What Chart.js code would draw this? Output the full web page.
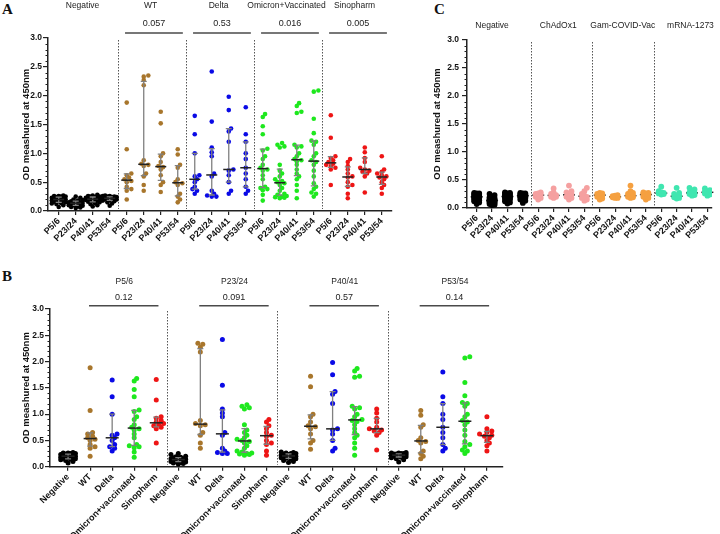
<!DOCTYPE html>
<html>
<head>
<meta charset="utf-8">
<script src="https://cdn.jsdelivr.net/npm/chart.js@4.4.1/dist/chart.umd.min.js"></script>
<style>
  body { margin: 0; background: #fff; width: 720px; height: 534px; position: relative; overflow: hidden; }
  canvas { position: absolute; }
  .tag { position: absolute; font: bold 15px "Liberation Serif", "DejaVu Serif", serif; color: #111; }
</style>
</head>
<body>
<div class="tag" style="left:2px;top:1px">A</div>
<div class="tag" style="left:2px;top:268px">B</div>
<div class="tag" style="left:434px;top:1px">C</div>
<canvas id="chartA" width="400" height="275" style="left:0;top:0"></canvas>
<canvas id="chartC" width="320" height="275" style="left:400px;top:0"></canvas>
<canvas id="chartB" width="520" height="264" style="left:0;top:270px"></canvas>
<script>
const passages = ['P5/6', 'P23/24', 'P40/41', 'P53/54'];
const groupsA = ['Negative', 'WT', 'Delta', 'Omicron+Vaccinated', 'Sinopharm'];
const ticksB = ['Negative', 'WT', 'Delta', 'Omicron+vaccinated', 'Sinopharm'];
const groupsC = ['Negative', 'ChAdOx1', 'Gam-COVID-Vac', 'mRNA-1273'];
const pValuesA = ['0.057', '0.53', '0.016', '0.005'];
const pValuesB = ['0.12', '0.091', '0.57', '0.14'];
const yTitle = 'OD meashured at 450nm';

// OD at 450nm, one list per passage: P5/6, P23/24, P40/41, P53/54
const negative = [
  [0.27, 0.26, 0.26, 0.25, 0.25, 0.24, 0.23, 0.22, 0.22, 0.21, 0.2, 0.2, 0.19, 0.18, 0.18, 0.17, 0.16, 0.15, 0.14, 0.13, 0.12, 0.1, 0.07],
  [0.25, 0.23, 0.2, 0.19, 0.18, 0.17, 0.16, 0.15, 0.15, 0.14, 0.14, 0.13, 0.12, 0.12, 0.11, 0.1, 0.1, 0.09, 0.08, 0.07, 0.06, 0.05],
  [0.28, 0.27, 0.26, 0.25, 0.25, 0.24, 0.23, 0.22, 0.22, 0.21, 0.21, 0.2, 0.2, 0.19, 0.18, 0.17, 0.16, 0.15, 0.14, 0.12, 0.1, 0.08],
  [0.27, 0.26, 0.26, 0.25, 0.25, 0.24, 0.24, 0.23, 0.23, 0.22, 0.22, 0.21, 0.21, 0.2, 0.2, 0.19, 0.18, 0.17, 0.15, 0.13, 0.09]
];
const wt = [
  [1.88, 1.07, 0.65, 0.62, 0.58, 0.55, 0.52, 0.5, 0.42, 0.38, 0.35, 0.2],
  [2.35, 2.33, 2.27, 2.18, 0.88, 0.82, 0.8, 0.78, 0.65, 0.6, 0.45, 0.35],
  [1.72, 1.52, 1.0, 0.95, 0.85, 0.78, 0.76, 0.72, 0.62, 0.5, 0.45, 0.33],
  [1.07, 0.98, 0.8, 0.75, 0.55, 0.5, 0.48, 0.45, 0.3, 0.25, 0.2, 0.15]
];
const delta = [
  [1.65, 1.33, 1.0, 0.62, 0.6, 0.55, 0.5, 0.42, 0.38, 0.35, 0.3],
  [2.42, 1.55, 1.1, 1.02, 0.95, 0.65, 0.6, 0.35, 0.3, 0.27, 0.25, 0.25],
  [1.98, 1.75, 1.43, 1.38, 1.2, 0.72, 0.7, 0.62, 0.5, 0.35, 0.3],
  [1.8, 1.33, 1.2, 1.0, 0.9, 0.75, 0.65, 0.55, 0.42, 0.35, 0.3]
];
const omicron = [
  [1.68, 1.63, 1.47, 1.33, 1.08, 1.05, 0.95, 0.9, 0.8, 0.75, 0.72, 0.7, 0.62, 0.55, 0.42, 0.4, 0.38, 0.36, 0.28, 0.18],
  [1.18, 1.15, 1.12, 1.1, 0.8, 0.7, 0.65, 0.6, 0.55, 0.52, 0.5, 0.48, 0.45, 0.4, 0.35, 0.3, 0.28, 0.26, 0.25, 0.24, 0.23, 0.22],
  [1.87, 1.82, 1.72, 1.7, 1.15, 1.12, 1.1, 1.0, 0.95, 0.9, 0.88, 0.86, 0.8, 0.72, 0.65, 0.6, 0.55, 0.45, 0.35, 0.22],
  [2.09, 2.07, 1.6, 1.35, 1.22, 1.2, 1.15, 1.0, 0.95, 0.88, 0.85, 0.8, 0.7, 0.6, 0.48, 0.42, 0.38, 0.32, 0.3, 0.25]
];
const sinopharm = [
  [1.66, 1.27, 0.95, 0.92, 0.88, 0.85, 0.82, 0.8, 0.78, 0.75, 0.72, 0.45],
  [0.9, 0.85, 0.78, 0.72, 0.65, 0.6, 0.58, 0.5, 0.45, 0.42, 0.3, 0.22],
  [1.1, 1.02, 0.92, 0.85, 0.75, 0.72, 0.7, 0.68, 0.65, 0.6, 0.32],
  [0.95, 0.72, 0.68, 0.65, 0.62, 0.6, 0.58, 0.55, 0.5, 0.45, 0.4, 0.3]
];
const chadox1 = [
  [0.28, 0.26, 0.25, 0.24, 0.22, 0.2, 0.18, 0.15],
  [0.35, 0.28, 0.25, 0.23, 0.22, 0.2, 0.2, 0.18],
  [0.4, 0.3, 0.28, 0.25, 0.22, 0.2, 0.18, 0.15],
  [0.36, 0.3, 0.25, 0.22, 0.2, 0.18, 0.15, 0.13]
];
const gamCovidVac = [
  [0.27, 0.26, 0.25, 0.24, 0.22, 0.2, 0.17, 0.15],
  [0.23, 0.22, 0.21, 0.2, 0.2, 0.19, 0.18, 0.18],
  [0.4, 0.3, 0.27, 0.25, 0.22, 0.21, 0.2, 0.19, 0.18],
  [0.28, 0.27, 0.26, 0.25, 0.24, 0.22, 0.2, 0.18, 0.15]
];
const mrna1273 = [
  [0.38, 0.3, 0.28, 0.27, 0.26, 0.26, 0.25, 0.24],
  [0.36, 0.27, 0.25, 0.22, 0.2, 0.19, 0.18, 0.17],
  [0.36, 0.33, 0.3, 0.28, 0.27, 0.26, 0.25, 0.23, 0.22],
  [0.35, 0.32, 0.3, 0.29, 0.28, 0.27, 0.26, 0.24, 0.22]
];

const FONT = '"Liberation Sans", Arial, sans-serif';
const colorsA = ['#000000', '#a8762c', '#0a0ae6', '#1ee81e', '#ee1515'];
const colorsC = ['#000000', '#f5a0a0', '#f5a040', '#40e6b0'];

// GraphPad-like median and interquartile range
function quantile(sorted, p) {
  let pos = (sorted.length + 1) * p - 1;
  pos = Math.max(0, Math.min(sorted.length - 1, pos));
  const lo = Math.floor(pos), hi = Math.min(sorted.length - 1, lo + 1);
  return sorted[lo] + (sorted[hi] - sorted[lo]) * (pos - lo);
}

// spread overlapping dots sideways (pixel space), kept inside +-spread px
function swarm(values, center, pxX, pxY, d, spread) {
  const placed = [];
  const order = values.map((v, i) => i).sort((a, b) => values[a] - values[b]);
  const out = [];
  const minGap = d * 0.7;
  order.forEach(i => {
    const y = values[i] * pxY;
    let best = 0, bestGap = -1;
    for (let k = 0; ; k++) {
      const dx = (k % 2 ? 1 : -1) * Math.ceil(k / 2) * d * 0.5;
      if (Math.abs(dx) > spread) break;
      const gap = placed.reduce((m, p) => Math.min(m, Math.hypot(p[0] - dx, p[1] - y)), 99);
      if (gap >= minGap) { best = dx; bestGap = gap; break; }
      if (gap > bestGap) { best = dx; bestGap = gap; }
    }
    placed.push([best, y]);
    out.push({ x: center + best / pxX, y: values[i] });
  });
  return out;
}

function decor(cfg) {
  function bars(chart) {
    const ctx = chart.ctx, xs = chart.scales.x, ys = chart.scales.y;
    ctx.save();
    cfg.groups.forEach(g => {
      const s = g.vals.slice().sort((a, b) => a - b);
      const cx = xs.getPixelForValue(g.x);
      const med = ys.getPixelForValue(quantile(s, 0.5));
      if (!cfg.medianOnly) {
        const q1 = ys.getPixelForValue(quantile(s, 0.25));
        const q3 = ys.getPixelForValue(quantile(s, 0.75));
        ctx.strokeStyle = '#808080';
        ctx.lineWidth = 1.3;
        ctx.beginPath();
        ctx.moveTo(cx, q1); ctx.lineTo(cx, q3);
        ctx.moveTo(cx - cfg.cap, q1); ctx.lineTo(cx + cfg.cap, q1);
        ctx.moveTo(cx - cfg.cap, q3); ctx.lineTo(cx + cfg.cap, q3);
        ctx.stroke();
      }
      ctx.strokeStyle = '#222';
      ctx.lineWidth = 1.5;
      ctx.beginPath();
      ctx.moveTo(cx - cfg.med, med); ctx.lineTo(cx + cfg.med, med);
      ctx.stroke();
    });
    ctx.restore();
  }
  return {
    id: 'decor',
    beforeDatasetsDraw(chart) {
      const ctx = chart.ctx, xs = chart.scales.x, a = chart.chartArea;
      ctx.save();
      ctx.strokeStyle = '#555';
      ctx.lineWidth = 1;
      ctx.setLineDash([1.5, 1.5]);
      cfg.seps.forEach(v => {
        const x = Math.round(xs.getPixelForValue(v)) + 0.5;
        ctx.beginPath(); ctx.moveTo(x, a.top + 2); ctx.lineTo(x, a.bottom - 2); ctx.stroke();
      });
      ctx.restore();
      if (cfg.medianOnly) bars(chart);
    },
    afterDatasetsDraw(chart) {
      if (!cfg.medianOnly) bars(chart);
    },
    afterDraw(chart) {
      const ctx = chart.ctx, xs = chart.scales.x, ys = chart.scales.y, a = chart.chartArea;
      ctx.save();
      // minor ticks on the y axis
      ctx.strokeStyle = '#222';
      ctx.lineWidth = 1;
      for (let i = 1; i < 30; i++) {
        if (i % 5 === 0) continue;
        const y = Math.round(ys.getPixelForValue(i / 10)) + 0.5;
        ctx.beginPath(); ctx.moveTo(a.left - 2.5, y); ctx.lineTo(a.left, y); ctx.stroke();
      }
      ctx.fillStyle = '#222';
      ctx.textAlign = 'center';
      ctx.textBaseline = 'middle';
      ctx.font = '8.5px ' + FONT;
      cfg.headings.forEach(h => ctx.fillText(h.text, xs.getPixelForValue(h.at), cfg.headY));
      ctx.font = '9px ' + FONT;
      ctx.strokeStyle = '#4a4a4a';
      ctx.lineWidth = 1.6;
      (cfg.pvals || []).forEach(p => {
        const x0 = xs.getPixelForValue(p.from), x1 = xs.getPixelForValue(p.to);
        ctx.fillText(p.text, (x0 + x1) / 2, cfg.pY);
        ctx.beginPath(); ctx.moveTo(x0, cfg.lineY); ctx.lineTo(x1, cfg.lineY); ctx.stroke();
      });
      ctx.restore();
    }
  };
}

function makePanel(id, cfg) {
  const datasets = cfg.groups.map(g => ({
    data: swarm(g.vals, g.x, cfg.pxX, cfg.pxY, cfg.dot, cfg.spread),
    backgroundColor: g.color,
    borderWidth: 0,
    pointRadius: cfg.radius,
    pointHoverRadius: cfg.radius
  }));
  const axisGrid = { drawOnChartArea: false, drawTicks: true, tickLength: 4, color: '#222', lineWidth: 1.2 };
  new Chart(document.getElementById(id), {
    type: 'scatter',
    data: { datasets },
    options: {
      responsive: false,
      animation: false,
      devicePixelRatio: 1,
      events: [],
      layout: { padding: { left: 0, top: cfg.top, right: cfg.right, bottom: 0 } },
      plugins: { legend: { display: false }, tooltip: { enabled: false } },
      scales: {
        x: {
          type: 'linear', min: cfg.xmin, max: cfg.xmax,
          afterBuildTicks: s => { s.ticks = cfg.labels.map((l, i) => ({ value: i })); },
          afterFit: s => { s.height = cfg.xHeight; },
          grid: axisGrid,
          border: { color: '#222', width: 1.5 },
          ticks: {
            autoSkip: false, maxRotation: 45, minRotation: 45, padding: 1, color: '#111',
            font: { family: FONT, size: 9, weight: 'bold' },
            callback: v => cfg.labels[Math.round(v)]
          }
        },
        y: {
          min: 0, max: 3,
          afterFit: s => { s.width = cfg.yWidth; },
          grid: Object.assign({}, axisGrid, { tickLength: 5 }),
          border: { color: '#222', width: 1.5 },
          ticks: {
            stepSize: 0.5, padding: cfg.yPad, color: '#111',
            font: { family: FONT, size: 8.5, weight: 'bold' },
            callback: v => v.toFixed(1)
          },
          title: {
            display: true, text: yTitle, color: '#111',
            font: { family: FONT, size: 9.5, weight: 'bold' },
            padding: { top: cfg.titlePad, bottom: 0 }
          }
        }
      }
    },
    plugins: [decor(cfg)]
  });
}

// Panel A: grouped by variant, passages within
const seriesA = [negative, wt, delta, omicron, sinopharm];
const groupsListA = [];
seriesA.forEach((ser, gi) => ser.forEach((vals, pi) => groupsListA.push({ x: gi * 4 + pi, vals, color: colorsA[gi] })));
makePanel('chartA', {
  labels: groupsA.flatMap(() => passages),
  groups: groupsListA,
  xmin: -0.63, xmax: 19.6, top: 38, right: 8, xHeight: 64, yWidth: 48, yPad: 1, titlePad: 21,
  pxX: 17, pxY: 57.7, dot: 4.6, spread: 7.5, radius: 2.3, cap: 3, med: 5.5,
  seps: [3.5, 7.5, 11.5, 15.5],
  headY: 6, pY: 24, lineY: 33,
  headings: groupsA.map((t, i) => ({ text: t, at: i * 4 + 1.4 })),
  pvals: pValuesA.map((t, i) => ({ text: t, from: (i + 1) * 4 - 0.1, to: (i + 1) * 4 + 3.3 }))
});

// Panel B: grouped by passage, variants within
const groupsListB = [];
passages.forEach((p, pi) => seriesA.forEach((ser, gi) => groupsListB.push({ x: pi * 5 + gi, vals: ser[pi], color: colorsA[gi] })));
makePanel('chartB', {
  labels: passages.flatMap(() => ticksB),
  groups: groupsListB,
  xmin: -0.82, xmax: 19.73, top: 39, right: 17, xHeight: 67.3, yWidth: 50, yPad: 1, titlePad: 21,
  pxX: 22.05, pxY: 52.6, dot: 4.9, spread: 9, radius: 2.5, cap: 3, med: 6.5,
  seps: [4.5, 9.5, 14.5],
  headY: 12, pY: 28, lineY: 35.7,
  headings: passages.map((t, i) => ({ text: t, at: i * 5 + 2.55 })),
  pvals: pValuesB.map((t, i) => ({ text: t, from: i * 5 + 0.95, to: i * 5 + 4.1 }))
});

// Panel C: vaccinated sera
const seriesC = [negative, chadox1, gamCovidVac, mrna1273];
const groupsListC = [];
seriesC.forEach((ser, gi) => ser.forEach((vals, pi) => groupsListC.push({ x: gi * 4 + pi, vals, color: colorsC[gi] })));
makePanel('chartC', {
  labels: groupsC.flatMap(() => passages),
  groups: groupsListC,
  xmin: -0.63, xmax: 15.3, top: 40, right: 8, xHeight: 67, yWidth: 67, yPad: 3, titlePad: 32,
  pxX: 15.33, pxY: 56, dot: 5, spread: 4.2, radius: 2.9, cap: 3, med: 6,
  medianOnly: true,
  seps: [3.5, 7.5, 11.5],
  headY: 26,
  headings: groupsC.map((t, i) => ({ text: t, at: i * 4 + [1.0, 1.3, 1.5, 1.9][i] }))
});
</script>
</body>
</html>
